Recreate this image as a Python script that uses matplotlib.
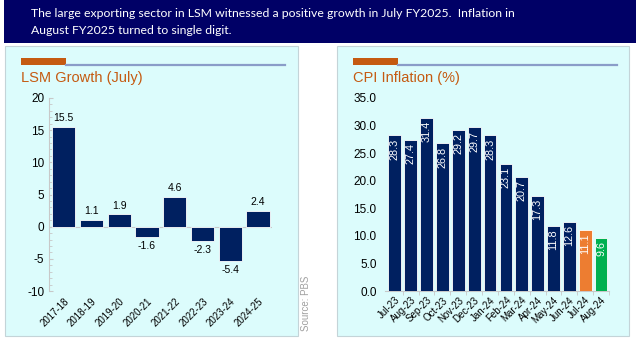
import matplotlib
matplotlib.use("Agg")
import matplotlib.pyplot as plt
from matplotlib.patches import Rectangle
from matplotlib.ticker import MultipleLocator, FormatStrFormatter

# LSM growth (July), % yoy
lsm_years = ["2017-18", "2018-19", "2019-20", "2020-21", "2021-22", "2022-23", "2023-24", "2024-25"]
lsm_growth = [15.5, 1.1, 1.9, -1.6, 4.6, -2.3, -5.4, 2.4]

# CPI inflation, % yoy
cpi_months = ["Jul-23", "Aug-23", "Sep-23", "Oct-23", "Nov-23", "Dec-23", "Jan-24",
              "Feb-24", "Mar-24", "Apr-24", "May-24", "Jun-24", "Jul-24", "Aug-24"]
cpi_values = [28.3, 27.4, 31.4, 26.8, 29.2, 29.7, 28.3, 23.1, 20.7, 17.3, 11.8, 12.6, 11.1, 9.6]

header = ("The large exporting sector in LSM witnessed a positive growth in July FY2025.  Inflation in\n"
          "August FY2025 turned to single digit.")

W, H = 636, 341
NAVY = "#002060"
ORANGE_T = "#c55a11"
PANEL = "#dcfcfc"

plt.rcParams["font.family"] = ["Liberation Sans", "DejaVu Sans"]
plt.rcParams["axes.unicode_minus"] = False

fig = plt.figure(figsize=(W / 100, H / 100), dpi=100)


def fx(px):
    return px / W


def fy(py):
    return 1 - py / H


def box(x0, y0, x1, y1, **kw):
    fig.patches.append(Rectangle((fx(x0), fy(y1)), fx(x1 - x0), (y1 - y0) / H,
                                 transform=fig.transFigure, zorder=0, **kw))


# header band
box(4, 0, 636, 43, facecolor="#000066", edgecolor="none")
fig.text(fx(31), fy(22), header, color="white", fontsize=8.8, family="Lato",
         va="center", ha="left", linespacing=1.6)

# panels
box(5, 46, 298, 336, facecolor=PANEL, edgecolor="#c4d4d8", linewidth=0.8)
box(337, 46, 629, 336, facecolor=PANEL, edgecolor="#c4d4d8", linewidth=0.8)

for x0, x1 in [(21, 285), (353, 617)]:
    fig.add_artist(plt.Line2D([fx(x0 + 45), fx(x1)], [fy(64.5), fy(64.5)],
                              color="#8a9cc8", linewidth=1.6, transform=fig.transFigure))
    box(x0, 58, x0 + 45, 65, facecolor=ORANGE_T, edgecolor="none")

fig.text(fx(21), fy(78), "LSM Growth (July)", color=ORANGE_T, fontsize=10.5, va="center")
fig.text(fx(353), fy(78), "CPI Inflation (%)", color=ORANGE_T, fontsize=10.5, va="center")
fig.text(fx(306), fy(331), "Source: PBS", color="#a0a0a0", fontsize=7, rotation=90,
         ha="center", va="bottom")

# left chart
ax1 = fig.add_axes([fx(49), fy(291), fx(272 - 49), (291 - 98) / H], zorder=2)
ax1.patch.set_alpha(0)
xs = range(len(lsm_years))
ax1.bar(xs, lsm_growth, width=0.84, color=NAVY, edgecolor="white", linewidth=0.6, zorder=3)
for x, v in zip(xs, lsm_growth):
    if v >= 0:
        ax1.text(x, v + 0.6, f"{v:.1f}", ha="center", va="bottom", fontsize=7.5)
    else:
        ax1.text(x, v - 0.6, f"{v:.1f}", ha="center", va="top", fontsize=7.5)
ax1.set_ylim(-10, 20)
ax1.set_xlim(-0.53, 7.5)
ax1.yaxis.set_major_locator(MultipleLocator(5))
ax1.yaxis.set_minor_locator(MultipleLocator(1))
ax1.axhline(0, color="#c8c8c8", linewidth=0.8, zorder=2)
for s in ["top", "right", "bottom"]:
    ax1.spines[s].set_visible(False)
ax1.spines["left"].set_color("#c8c8c8")
ax1.tick_params(axis="y", which="both", colors="#c8c8c8", labelcolor="black", labelsize=8.5,
                length=3, direction="in")
ax1.tick_params(axis="y", which="minor", length=2)
ax1.set_xticks(list(xs))
ax1.set_xticklabels(lsm_years, rotation=45, ha="right", rotation_mode="anchor", fontsize=7)
ax1.tick_params(axis="x", length=0, pad=4)

# right chart
ax2 = fig.add_axes([fx(385), fy(291), fx(609 - 385), (291 - 98) / H], zorder=2)
ax2.patch.set_alpha(0)
xs2 = range(len(cpi_months))
colors = [NAVY] * (len(cpi_months) - 2) + ["#ed7d31", "#00b050"]
ax2.bar(xs2, cpi_values, width=0.8, color=colors, edgecolor="white", linewidth=0.6, zorder=3)
for x, v in zip(xs2, cpi_values):
    ax2.text(x, v - 0.6, f"{v:.1f}", ha="center", va="top", rotation=90, color="white",
             fontsize=7.8, zorder=4)
ax2.set_ylim(0, 35)
ax2.set_xlim(-0.62, 13.5)
ax2.yaxis.set_major_locator(MultipleLocator(5))
ax2.yaxis.set_major_formatter(FormatStrFormatter("%.1f"))
for s in ["top", "right"]:
    ax2.spines[s].set_visible(False)
ax2.spines["left"].set_visible(False)
ax2.spines["bottom"].set_color("#c8c8c8")
ax2.tick_params(axis="y", length=0, labelsize=8.5, pad=6)
ax2.set_xticks([x + 0.5 for x in xs2], minor=True)
ax2.set_xticks(list(xs2))
ax2.set_xticklabels(cpi_months, rotation=45, ha="right", rotation_mode="anchor", fontsize=7)
ax2.tick_params(axis="x", which="major", length=0, pad=3)
ax2.tick_params(axis="x", which="minor", length=3, color="#c8c8c8")

fig.savefig("out.png", dpi=100)
